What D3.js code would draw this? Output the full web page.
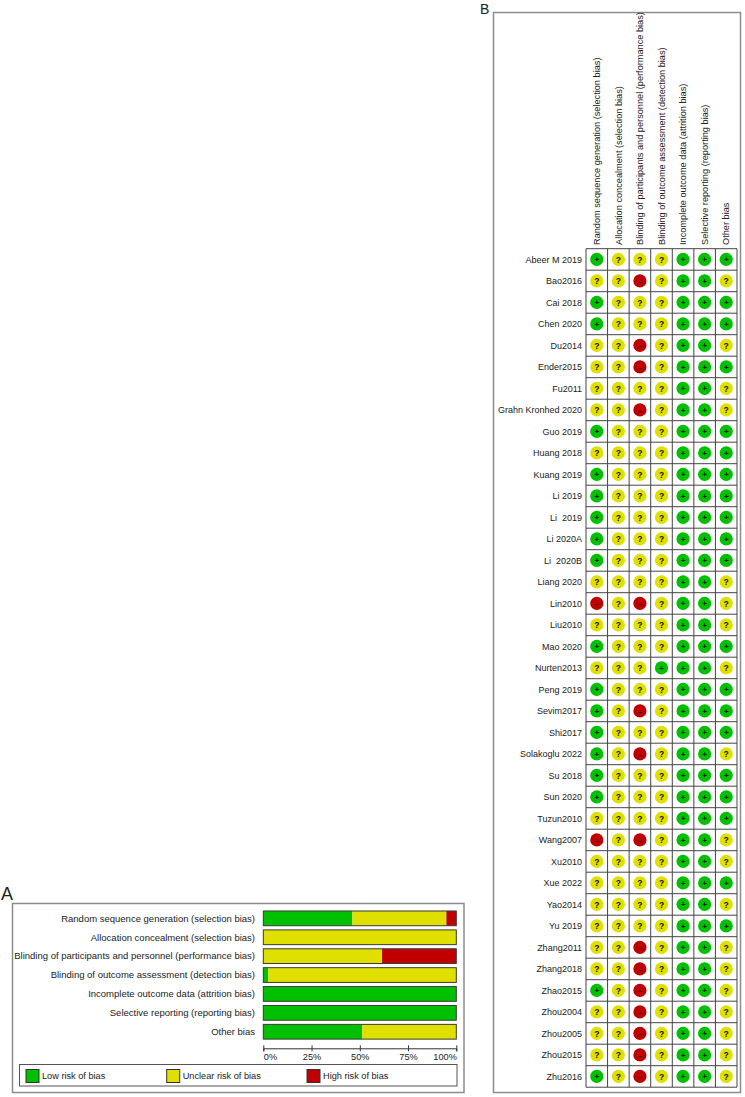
<!DOCTYPE html>
<html>
<head>
<meta charset="utf-8">
<script src="https://cdn.jsdelivr.net/npm/d3@7"></script>
<style>
	body { margin: 0; background: #fff; }
	text { font-family: "Liberation Sans", Arial, sans-serif; fill: #222; }
</style>
</head>
<body>
<div id="chart"></div>
<script>
const domains = [
	"Random sequence generation (selection bias)",
	"Allocation concealment (selection bias)",
	"Blinding of participants and personnel (performance bias)",
	"Blinding of outcome assessment (detection bias)",
	"Incomplete outcome data (attrition bias)",
	"Selective reporting (reporting bias)",
	"Other bias"
];

const studies = [
	"Abeer M 2019", "Bao2016", "Cai 2018", "Chen 2020", "Du2014", "Ender2015", "Fu2011",
	"Grahn Kronhed 2020", "Guo 2019", "Huang 2018", "Kuang 2019", "Li 2019", "Li  2019",
	"Li 2020A", "Li  2020B", "Liang 2020", "Lin2010", "Liu2010", "Mao 2020", "Nurten2013",
	"Peng 2019", "Sevim2017", "Shi2017", "Solakoglu 2022", "Su 2018", "Sun 2020",
	"Tuzun2010", "Wang2007", "Xu2010", "Xue 2022", "Yao2014", "Yu 2019", "Zhang2011",
	"Zhang2018", "Zhao2015", "Zhou2004", "Zhou2005", "Zhou2015", "Zhu2016"
];

// one string per study, one char per domain: + low, ? unclear, - high
const judgements = [
	"+???+++", "??-?++?", "+???+++", "+???+++", "??-?++?", "??-?+++", "????++?",
	"??-?++?", "+???+++", "????+++", "+???+++", "+???+++", "+???+++",
	"+???+++", "+???+++", "????++?", "-?-?++?", "????++?", "+???+++", "???+++?",
	"+???+++", "+?-?+++", "+???+++", "+?-?++?", "+???+++", "+???+++",
	"????+++", "-?-?++?", "????++?", "????+++", "????++?", "????+++", "??-?++?",
	"??-?++?", "+?-?++?", "??-?++?", "??-?++?", "??-?++?", "+?-?++?"
];

const levels = ["+", "?", "-"];
const levelNames = ["Low risk of bias", "Unclear risk of bias", "High risk of bias"];
const percentTicks = [0, 0.25, 0.5, 0.75, 1];

const colors = { "+": "#00c000", "?": "#e0e000", "-": "#c00000" };

const W = 745, H = 1097;

const svg = d3.select('#chart').append('svg')
	.attr('width', W)
	.attr('height', H);

// ---------- panel B : summary grid ----------
const grid = { left: 586, right: 737, top: 248.7, bottom: 1087.2 };

const xCol = d3.scaleBand()
	.domain(d3.range(domains.length))
	.range([grid.left, grid.right]);

const yRow = d3.scaleBand()
	.domain(d3.range(studies.length))
	.range([grid.top, grid.bottom]);

svg.append('rect')
	.attr('x', 493.5).attr('y', 12.5)
	.attr('width', 247).attr('height', 1080)
	.attr('fill', 'none')
	.attr('stroke', '#8c8c8c')
	.attr('stroke-width', 1.5);

svg.append('text')
	.attr('x', 480).attr('y', 14)
	.style('font-size', '14px')
	.text('B');

const gB = svg.append('g');

gB.selectAll('.col-label')
	.data(domains)
	.enter()
	.append('text')
		.attr('class', 'col-label')
		.attr('transform', (d, i) => `translate(${xCol(i) + xCol.bandwidth() / 2}, 245) rotate(-90)`)
		.attr('dy', '0.35em')
		.style('font-size', '9.2px')
		.text(d => d);

gB.selectAll('.row-label')
	.data(studies)
	.enter()
	.append('text')
		.attr('class', 'row-label')
		.attr('x', 582)
		.attr('y', (d, i) => yRow(i) + yRow.bandwidth() / 2)
		.attr('dy', '0.35em')
		.attr('text-anchor', 'end')
		.style('font-size', '9px')
		.style('white-space', 'pre')
		.text(d => d);

// grid lines
const lines = gB.append('g')
	.attr('stroke', '#444')
	.attr('stroke-width', 1);

lines.selectAll('.vline')
	.data(d3.range(domains.length + 1))
	.enter()
	.append('line')
		.attr('x1', i => i < domains.length ? xCol(i) : grid.right)
		.attr('x2', i => i < domains.length ? xCol(i) : grid.right)
		.attr('y1', grid.top)
		.attr('y2', grid.bottom);

lines.selectAll('.hline')
	.data(d3.range(studies.length + 1))
	.enter()
	.append('line')
		.attr('y1', i => i < studies.length ? yRow(i) : grid.bottom)
		.attr('y2', i => i < studies.length ? yRow(i) : grid.bottom)
		.attr('x1', grid.left)
		.attr('x2', grid.right);

const cells = [];
judgements.forEach((row, r) => {
	row.split('').forEach((j, c) => cells.push({ r, c, j }));
});

const cell = gB.selectAll('.cell')
	.data(cells)
	.enter()
	.append('g')
		.attr('class', 'cell')
		.attr('transform', d => `translate(${xCol(d.c) + xCol.bandwidth() / 2}, ${yRow(d.r) + yRow.bandwidth() / 2})`);

cell.append('circle')
	.attr('r', 6.6)
	.attr('fill', d => colors[d.j]);

cell.append('text')
	.attr('text-anchor', 'middle')
	.attr('dy', '0.36em')
	.style('font-size', d => d.j === '?' ? '8.5px' : '8px')
	.style('font-weight', 'bold')
	.style('fill', '#111')
	.text(d => d.j === '-' ? '–' : d.j);

// ---------- panel A : summary bars ----------
svg.append('rect')
	.attr('x', 12.5).attr('y', 903.5)
	.attr('width', 451.5).attr('height', 189)
	.attr('fill', 'none')
	.attr('stroke', '#8c8c8c')
	.attr('stroke-width', 1.5);

svg.append('text')
	.attr('x', 1).attr('y', 900)
	.style('font-size', '18px')
	.text('A');

const xPct = d3.scaleLinear()
	.domain([0, 1])
	.range([263.3, 456.3]);

const yBar = d3.scaleBand()
	.domain(d3.range(domains.length))
	.range([908.9, 908.9 + domains.length * 18.9])
	.paddingInner(0.22)
	.paddingOuter(0.11);

const shares = domains.map((d, c) => {
	const n = judgements.length;
	let acc = 0;
	return levels.map(l => {
		const v = judgements.filter(row => row[c] === l).length / n;
		const seg = { c, l, x0: acc, x1: acc + v };
		acc += v;
		return seg;
	});
});

const gA = svg.append('g');

gA.selectAll('.bar-label')
	.data(domains)
	.enter()
	.append('text')
		.attr('class', 'bar-label')
		.attr('x', 255)
		.attr('y', (d, i) => yBar(i) + yBar.bandwidth() / 2)
		.attr('dy', '0.35em')
		.attr('text-anchor', 'end')
		.style('font-size', '9.5px')
		.text(d => d);

gA.append('g')
	.selectAll('.seg')
	.data(shares.flat().filter(s => s.x1 > s.x0))
	.enter()
	.append('rect')
		.attr('class', 'seg')
		.attr('x', d => xPct(d.x0))
		.attr('y', d => yBar(d.c))
		.attr('width', d => xPct(d.x1) - xPct(d.x0))
		.attr('height', yBar.bandwidth())
		.attr('fill', d => colors[d.l]);

gA.append('g')
	.selectAll('.outline')
	.data(domains)
	.enter()
	.append('rect')
		.attr('x', xPct(0))
		.attr('y', (d, i) => yBar(i))
		.attr('width', xPct(1) - xPct(0))
		.attr('height', yBar.bandwidth())
		.attr('fill', 'none')
		.attr('stroke', '#3a3a3a')
		.attr('stroke-width', 1);

const xAxis = d3.axisBottom(xPct)
	.tickValues(percentTicks)
	.tickFormat(d3.format('.0%'))
	.tickSizeOuter(0)
	.tickSize(3);

const axisG = gA.append('g')
	.attr('transform', 'translate(0, 1048.3)')
	.call(xAxis);

axisG.select('.domain').attr('stroke', '#333');
axisG.selectAll('.tick line').attr('y1', -3).attr('y2', 3).attr('stroke', '#333');
axisG.selectAll('.tick text')
	.attr('y', 5)
	.style('font-size', '9.2px')
	.style('font-family', '"Liberation Sans", Arial, sans-serif')
	.style('fill', '#222')
	.attr('text-anchor', (d, i) => i === 0 ? 'start' : (i === percentTicks.length - 1 ? 'end' : 'middle'));

// legend
svg.append('rect')
	.attr('x', 19.5).attr('y', 1064.5)
	.attr('width', 437.5).attr('height', 21.5)
	.attr('fill', 'none')
	.attr('stroke', '#555')
	.attr('stroke-width', 1);

const legendX = [26, 166.7, 307];
const legend = svg.selectAll('.legend')
	.data(levels)
	.enter()
	.append('g')
		.attr('class', 'legend')
		.attr('transform', (d, i) => `translate(${legendX[i]}, 1069.5)`);

legend.append('rect')
	.attr('width', 13).attr('height', 13)
	.attr('fill', d => colors[d])
	.attr('stroke', '#333')
	.attr('stroke-width', 1);

legend.append('text')
	.attr('x', 16)
	.attr('y', 6.5)
	.attr('dy', '0.35em')
	.style('font-size', '9.2px')
	.text((d, i) => levelNames[i]);
</script>
</body>
</html>
